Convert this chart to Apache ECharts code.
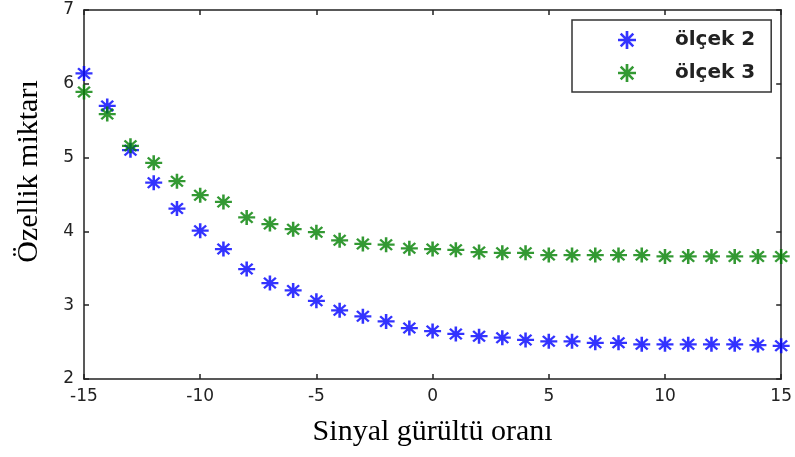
<!DOCTYPE html>
<html>
<head>
<meta charset="utf-8">
<title>Özellik miktarı</title>
<script src="https://cdn.jsdelivr.net/npm/echarts@6.0.0/dist/echarts.min.js"></script>
<style>
  html, body { margin: 0; padding: 0; background: #fff; }
  #chart { width: 795px; height: 457px; }
</style>
</head>
<body>
<div id="chart"></div>
<script>
// SNR values on the x axis
var snr = [-15, -14, -13, -12, -11, -10, -9, -8, -7, -6, -5, -4, -3, -2, -1, 0,
  1, 2, 3, 4, 5, 6, 7, 8, 9, 10, 11, 12, 13, 14, 15];
var olcek2 = [6.14, 5.70, 5.10, 4.66, 4.31, 4.01, 3.76, 3.49, 3.30, 3.20, 3.06, 2.93, 2.85, 2.78, 2.69, 2.65,
  2.61, 2.58, 2.56, 2.53, 2.51, 2.51, 2.49, 2.49, 2.47, 2.47, 2.47, 2.47, 2.47, 2.46, 2.45];
var olcek3 = [5.89, 5.59, 5.16, 4.93, 4.68, 4.49, 4.40, 4.19, 4.10, 4.03, 3.99, 3.88, 3.83, 3.82, 3.77, 3.76,
  3.75, 3.72, 3.71, 3.71, 3.68, 3.68, 3.68, 3.68, 3.68, 3.66, 3.66, 3.66, 3.66, 3.66, 3.66];
var seriesNames = ['ölçek 2', 'ölçek 3'];
var xTicks = { min: -15, max: 15, step: 5 };
var yTicks = { min: 2, max: 7, step: 1 };

// matlab style '*' marker
var star = 'path://M-1,-0.15L1,-0.15L1,0.15L-1,0.15Z' +
  'M-0.15,-1L0.15,-1L0.15,1L-0.15,1Z' +
  'M-0.6,-0.8L0.8,0.6L0.6,0.8L-0.8,-0.6Z' +
  'M0.6,-0.8L0.8,-0.6L-0.6,0.8L-0.8,0.6Z';

function pairs(ys) {
  return snr.map(function (x, i) { return [x, ys[i]]; });
}

var chart = echarts.init(document.getElementById('chart'), null, { renderer: 'canvas' });

var axisLine = { show: true, onZero: false, lineStyle: { color: '#222', width: 1.5 } };
var tickStyle = { show: true, inside: true, length: 5, lineStyle: { color: '#222', width: 1.5 } };
var tickLabel = { fontFamily: 'DejaVu Sans', fontSize: 17, color: '#222' };

var option = {
  backgroundColor: '#fff',
  animation: false,
  grid: { left: 84, right: 12, top: 10, bottom: 78 },
  legend: {
    orient: 'vertical',
    left: 572,
    top: 20,
    padding: [10, 16, 9, 46],
    itemWidth: 86,
    itemHeight: 18,
    itemGap: 13,
    backgroundColor: '#fff',
    borderColor: '#333',
    borderWidth: 1.5,
    data: seriesNames,
    textStyle: { fontFamily: 'DejaVu Sans', fontWeight: 'bold', fontSize: 20, color: '#222', lineHeight: 18 }
  },
  xAxis: [{
    type: 'value',
    min: xTicks.min, max: xTicks.max, interval: xTicks.step,
    axisLine: axisLine,
    axisTick: tickStyle,
    axisLabel: Object.assign({ margin: 9 }, tickLabel),
    splitLine: { show: false },
    name: 'Sinyal gürültü oranı',
    nameLocation: 'middle',
    nameGap: 38,
    nameTextStyle: { fontFamily: 'Liberation Serif', fontSize: 30, color: '#000' }
  }, {
    type: 'value', position: 'top',
    min: xTicks.min, max: xTicks.max, interval: xTicks.step,
    axisLine: axisLine, axisTick: tickStyle,
    axisLabel: { show: false }, splitLine: { show: false }
  }],
  yAxis: [{
    type: 'value',
    min: yTicks.min, max: yTicks.max, interval: yTicks.step,
    axisLine: axisLine,
    axisTick: tickStyle,
    axisLabel: Object.assign({ margin: 10 }, tickLabel),
    splitLine: { show: false },
    name: 'Özellik miktarı',
    nameLocation: 'middle',
    nameGap: 40,
    nameTextStyle: { fontFamily: 'Liberation Serif', fontSize: 30, color: '#000', padding: [0, 0, 0, 46] }
  }, {
    type: 'value', position: 'right',
    min: yTicks.min, max: yTicks.max, interval: yTicks.step,
    axisLine: axisLine, axisTick: tickStyle,
    axisLabel: { show: false }, splitLine: { show: false }
  }],
  series: [{
    name: seriesNames[0],
    type: 'scatter',
    symbol: star,
    symbolSize: [17, 15],
    clip: false,
    itemStyle: { color: '#0000ff' },
    data: pairs(olcek2)
  }, {
    name: seriesNames[1],
    type: 'scatter',
    symbol: star,
    symbolSize: [17, 15],
    clip: false,
    itemStyle: { color: '#008000' },
    data: pairs(olcek3)
  }]
};

chart.setOption(option);
</script>
</body>
</html>
